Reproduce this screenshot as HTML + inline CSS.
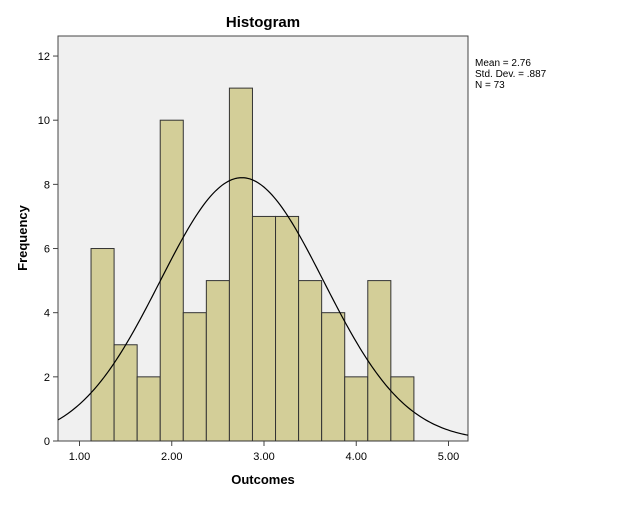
<!DOCTYPE html>
<html><head><meta charset="utf-8"><style>
body{margin:0;background:#fff;}
svg text{font-family:"Liberation Sans",Arial,sans-serif;}
</style></head><body>
<svg id="chart" width="626" height="501" xmlns="http://www.w3.org/2000/svg">
<rect x="58" y="36" width="410" height="405" fill="#f0f0f0" stroke="#444" stroke-width="1"/>
<g id="bars"></g>
<g id="curve"></g>
<g id="axes"></g>
<text x="263" y="27" text-anchor="middle" font-size="15" font-weight="bold">Histogram</text>
<text transform="translate(27,238) rotate(-90)" text-anchor="middle" font-size="13" font-weight="bold">Frequency</text>
<text x="263" y="484" text-anchor="middle" font-size="13" font-weight="bold">Outcomes</text>
<g font-size="10">
<text x="475" y="66">Mean = 2.76</text>
<text x="475" y="77">Std. Dev. = .887</text>
<text x="475" y="88">N = 73</text>
</g>
</svg>
<script>
const binStarts=[1.125,1.375,1.625,1.875,2.125,2.375,2.625,2.875,3.125,3.375,3.625,3.875,4.125,4.375];
const counts=[6,3,2,10,4,5,11,7,7,5,4,2,5,2];
const binWidth=0.25;
const mean=2.76, sd=0.887, n=73;
const xTicks=[1,2,3,4,5];
const xTickLabels=["1.00","2.00","3.00","4.00","5.00"];
const yTicks=[0,2,4,6,8,10,12];
const NS="http://www.w3.org/2000/svg";
const L=58,R=468,T=36,B=441;
function X(v){return 79.5+(v-1)*92.25;}
function Y(v){return 441-v*32.08;}
function mk(t,a,p){const e=document.createElementNS(NS,t);for(const k in a)e.setAttribute(k,a[k]);p.appendChild(e);return e;}
const bars=document.getElementById('bars');
counts.forEach((c,i)=>{
  const r=mk('rect',{x:X(binStarts[i]),y:Y(c),width:X(binStarts[i]+binWidth)-X(binStarts[i]),height:Y(0)-Y(c),fill:'#d3ce98',stroke:'#333','stroke-width':1},bars);
  
  
});
let d='';
for(let px=L;px<=R;px+=2){
  const v=1+(px-79.5)/92.25;
  const f=n*binWidth/(sd*Math.sqrt(2*Math.PI))*Math.exp(-0.5*((v-mean)/sd)**2);
  d+=(d?'L':'M')+px+','+Y(f).toFixed(2);
}
const cp=mk('path',{d:d,fill:'none',stroke:'#000','stroke-width':1.2},document.getElementById('curve'));


const ax=document.getElementById('axes');
yTicks.forEach(t=>{
  mk('line',{x1:L-5,x2:L,y1:Y(t),y2:Y(t),stroke:'#444'},ax);
  const tx=mk('text',{x:L-8,y:Y(t)+4,'text-anchor':'end','font-size':11},ax);
  tx.textContent=t;
  
  
});
xTicks.forEach((t,i)=>{
  mk('line',{x1:X(t),x2:X(t),y1:B,y2:B+5,stroke:'#444'},ax);
  const tx=mk('text',{x:X(t),y:B+19,'text-anchor':'middle','font-size':11},ax);
  tx.textContent=xTickLabels[i];
  
  
});
</script>
</body></html>
